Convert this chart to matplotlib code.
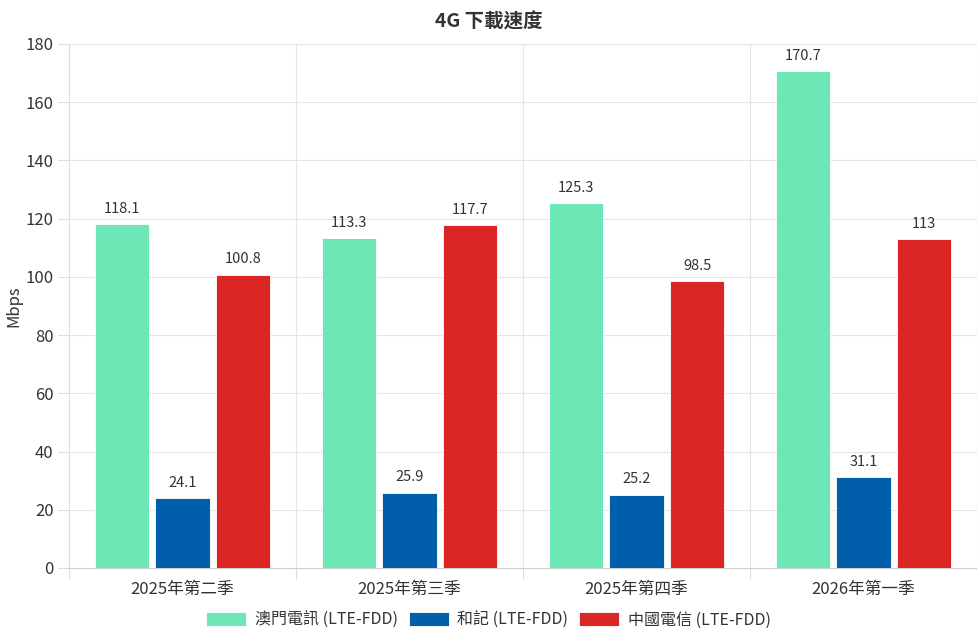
import matplotlib
matplotlib.use("Agg")
from matplotlib import pyplot as plt
import numpy as np

plt.rcParams['font.family'] = ['Noto Sans CJK TC', 'DejaVu Sans']

quarters = ["2025年第二季", "2025年第三季", "2025年第四季", "2026年第一季"]
ctm = [118.1, 113.3, 125.3, 170.7]
hutchison = [24.1, 25.9, 25.2, 31.1]
telecom = [100.8, 117.7, 98.5, 113]
series_names = ["澳門電訊 (LTE-FDD)", "和記 (LTE-FDD)", "中國電信 (LTE-FDD)"]
colors = ["#6ee7b7", "#005eab", "#dc2626"]

fig = plt.figure(figsize=(9.77, 6.38), dpi=100)
ax = fig.add_axes([69 / 977, 70 / 638, 908 / 977, 524 / 638])

x = np.arange(len(quarters))
w = 0.8 / 3
for i, (vals, name, c) in enumerate(zip([ctm, hutchison, telecom], series_names, colors)):
    pos = x + (i - 1) * w
    ax.bar(pos, vals, width=w * 0.9, color=c, label=name, edgecolor="white", linewidth=0.6, zorder=3)
    for p, v in zip(pos, vals):
        ax.annotate(f"{v:g}", (p, v), xytext=(0, 6), textcoords="offset points",
                    ha="center", va="bottom", fontsize=10.5, color="#333333")

ax.set_xlim(-0.5, len(quarters) - 0.5)
ax.set_ylim(0, 180)
ax.set_yticks(range(0, 181, 20))
ax.set_xticks(np.arange(-0.5, len(quarters), 1), minor=False)
ax.set_xticklabels([])
ax.set_xticks(x, minor=True)
ax.set_xticklabels(quarters, minor=True, fontsize=12, color="#333333")
ax.tick_params(axis="x", which="minor", length=0, pad=9)
ax.tick_params(axis="x", which="major", length=8, color="#dddddd")
ax.tick_params(axis="y", length=8, color="#dddddd", labelsize=12, labelcolor="#333333", pad=3)
ax.grid(True, which="major", color="#e5e5e5", linewidth=0.8, zorder=0)
for s in ["top", "right"]:
    ax.spines[s].set_visible(False)
ax.spines["left"].set_color("#dddddd")
ax.spines["bottom"].set_color("#cccccc")
ax.set_ylabel("Mbps", fontsize=12, color="#333333", labelpad=2)

fig.suptitle("4G 下載速度", x=0.5, y=1 - 22 / 638, va="center",
             fontsize=14, fontweight="bold", color="#333333")
fig.legend(loc="center", bbox_to_anchor=(0.5, 1 - 620 / 638), ncol=3, frameon=False,
           fontsize=11.5, handlelength=2.5, handleheight=1.0, columnspacing=0.7,
           handletextpad=0.53, labelcolor="#333333")

fig.savefig("out.png", dpi=100)
